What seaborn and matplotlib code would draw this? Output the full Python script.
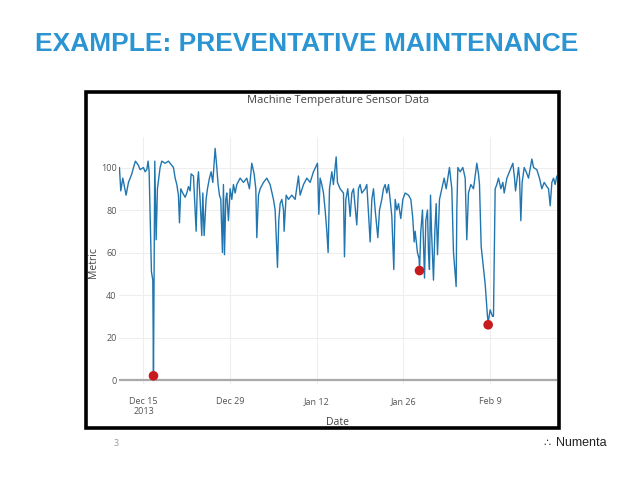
import matplotlib
matplotlib.use("Agg")
import matplotlib.pyplot as plt
import numpy as np
import pandas as pd
import seaborn as sns
from matplotlib.patches import Rectangle

# ---- data ----
BASE_DATE = "2013-12-15"
DAY_OFFSETS = [
    -3.88, -3.66, -3.34, -3.07, -2.80, -2.42, -2.15, -1.88, -1.51, -1.29,
    -0.81, -0.54, 0.00, 0.27, 0.54, 0.75, 0.92, 1.29, 1.51, 1.62,
    1.83, 2.05, 2.26, 2.48, 2.69, 2.96, 3.50, 4.04, 4.58, 4.85,
    5.12, 5.39, 5.65, 5.82, 6.03, 6.35, 6.73, 7.00, 7.27, 7.54,
    7.70, 8.08, 8.51, 8.72, 8.89, 9.15, 9.42, 9.59, 9.80, 10.12,
    10.34, 10.66, 10.93, 11.20, 11.58, 11.85, 12.06, 12.28, 12.49, 12.76,
    12.92, 13.09, 13.30, 13.46, 13.73, 14.00, 14.27, 14.54, 14.81, 15.08,
    15.62, 16.16, 16.69, 17.12, 17.50, 17.88, 18.15, 18.31, 18.58, 18.85,
    19.39, 19.92, 20.46, 21.00, 21.27, 21.65, 21.86, 22.08, 22.35, 22.62,
    22.72, 23.05, 23.42, 23.96, 24.50, 25.04, 25.31, 25.85, 26.39, 26.93,
    27.46, 28.11, 28.33, 28.54, 28.81, 29.08, 29.35, 29.62, 29.83, 30.05,
    30.43, 30.69, 31.13, 31.34, 31.77, 32.31, 32.47, 32.69, 33.01, 33.39,
    33.66, 33.93, 34.46, 34.73, 35.00, 35.27, 35.81, 36.08, 36.62, 36.89,
    37.16, 37.43, 37.86, 38.13, 38.50, 38.77, 39.04, 39.31, 39.58, 39.85,
    40.12, 40.44, 40.66, 40.93, 41.20, 41.57, 41.90, 42.27, 42.81, 43.19,
    43.51, 43.73, 43.89, 44.26, 44.53, 44.59, 44.80, 45.07, 45.40, 45.61,
    45.88, 46.04, 46.20, 46.37, 46.53, 46.85, 47.07, 47.28, 47.50, 47.82,
    48.20, 48.57, 48.90, 49.43, 49.81, 50.08, 50.51, 50.62, 50.78, 51.16,
    51.59, 51.97, 52.23, 52.50, 52.88, 53.31, 53.85, 54.12, 54.28, 54.55,
    55.20, 55.57, 55.68, 56.00, 56.38, 56.54, 56.81, 57.08, 57.35, 57.73,
    58.05, 58.27, 58.70, 59.67, 59.94, 60.10, 60.58, 60.75, 60.96, 61.17,
    61.50, 61.82, 62.20, 62.74, 63.01, 63.54, 63.97, 64.35, 64.73, 65.16,
    65.43, 65.70, 65.97, 66.24, 66.50, 66.77,
]
METRIC = [
    100, 89, 95, 91, 87, 93, 95, 97, 101, 103,
    101, 99, 100, 98, 99, 103, 98, 51, 47, 2,
    103, 66, 90, 95, 100, 103, 102, 103, 101, 100,
    95, 92, 87, 74, 90, 88, 86, 88, 91, 89,
    97, 96, 70, 93, 98, 85, 68, 88, 68, 85,
    90, 95, 98, 93, 109, 100, 92, 87, 85, 60,
    92, 59, 85, 88, 75, 90, 85, 92, 88, 92,
    95, 93, 95, 90, 102, 97, 90, 67, 87, 90,
    93, 95, 92, 85, 80, 53, 75, 83, 85, 80,
    70, 87, 85, 87, 85, 96, 87, 92, 95, 93,
    98, 102, 78, 95, 92, 88, 80, 70, 60, 90,
    98, 92, 105, 93, 90, 88, 58, 85, 90, 77,
    88, 90, 73, 90, 92, 88, 90, 92, 65, 85,
    90, 80, 67, 80, 85, 90, 92, 88, 92, 85,
    77, 52, 85, 80, 83, 76, 85, 88, 87, 85,
    76, 65, 70, 60, 57, 51, 70, 80, 48, 75,
    80, 60, 52, 87, 70, 47, 70, 83, 59, 85,
    90, 95, 90, 100, 90, 60, 44, 80, 100, 98,
    100, 95, 66, 88, 92, 90, 102, 97, 92, 63,
    45, 30, 27, 33, 30, 30, 90, 92, 95, 90,
    93, 88, 95, 102, 95, 89, 100, 95, 75, 93,
    100, 98, 95, 104, 100, 99, 95, 90, 93, 91,
    90, 82, 93, 95, 92, 96,
]
ANOMALY_DAYS = [1.62, 44.59, 55.68]
ANOMALY_METRIC = [2, 51.5, 26]

TICK_DATES = ["2013-12-15", "2013-12-29", "2014-01-12", "2014-01-26", "2014-02-09"]
TICK_LABELS = ["Dec 15\n2013", "Dec 29", "Jan 12", "Jan 26", "Feb 9"]
Y_TICKS = [0, 20, 40, 60, 80, 100]

base = pd.Timestamp(BASE_DATE)
df = pd.DataFrame({
    "Date": base + pd.to_timedelta(DAY_OFFSETS, unit="D"),
    "Metric": METRIC,
})
anom = pd.DataFrame({
    "Date": base + pd.to_timedelta(ANOMALY_DAYS, unit="D"),
    "Metric": ANOMALY_METRIC,
})

sns.set_style("white")
plt.rcParams["font.family"] = ["Open Sans", "DejaVu Sans"]

W, H = 638, 479
fig = plt.figure(figsize=(W / 100, H / 100), dpi=100)

# slide title
fig.text(35 / W, 1 - 44 / H, "EXAMPLE: PREVENTATIVE MAINTENANCE",
         family=["Liberation Sans", "DejaVu Sans"], weight="bold",
         fontsize=19, color="#2b95d3", ha="left", va="center")

# black frame around the chart screenshot
fig.patches.append(Rectangle((86 / W, 1 - 428 / H), 473 / W, 336 / H,
                             transform=fig.transFigure, fill=False,
                             edgecolor="black", linewidth=2.6, zorder=5))

ax = fig.add_axes([119.3 / W, 1 - 384.3 / H, 437.7 / W, 247.6 / H])

sns.lineplot(data=df, x="Date", y="Metric", ax=ax, color="#2176b0",
             linewidth=1.0, estimator=None)
sns.scatterplot(data=anom, x="Date", y="Metric", ax=ax, color="#c81b1d",
                s=48, edgecolor="none", zorder=4)

ax.set_xlim(base + pd.Timedelta(days=-3.9), base + pd.Timedelta(days=66.8))
ax.set_ylim(-2, 114.5)
ax.set_xticks(pd.to_datetime(TICK_DATES))
ax.set_xticklabels(TICK_LABELS)
ax.set_yticks(Y_TICKS)
ax.tick_params(axis="both", length=0, labelsize=6.5, colors="#555555")
ax.tick_params(axis="x", pad=9)
ax.tick_params(axis="y", pad=2)
ax.grid(True, color="#eeeeee", linewidth=0.8)
ax.axhline(0, color="#aaaaaa", linewidth=1.6, zorder=1)
for s in ax.spines.values():
    s.set_visible(False)

ax.set_xlabel("")
ax.set_ylabel("")
fig.text(337.7 / W, 1 - 100.5 / H, "Machine Temperature Sensor Data",
         fontsize=8, color="#444444", ha="center", va="center")
fig.text(337.7 / W, 1 - 422.5 / H, "Date", fontsize=7.5, color="#444444",
         ha="center", va="center")
fig.text(93.5 / W, 1 - 263 / H, "Metric", fontsize=7.5, color="#444444",
         ha="center", va="center", rotation=90)

# footer
fig.text(116 / W, 1 - 443 / H, "3", fontsize=6.5, color="#999999",
         ha="center", va="center")
fig.text(543 / W, 1 - 443 / H, "\u2234", fontsize=8,
         family=["DejaVu Sans"], color="#333333", ha="left", va="center")
fig.text(556 / W, 1 - 443 / H, "Numenta", fontsize=9,
         family=["Liberation Sans Narrow", "Liberation Sans", "DejaVu Sans"],
         color="#222222", ha="left", va="center")

fig.savefig("out.png", dpi=100, facecolor="white")
